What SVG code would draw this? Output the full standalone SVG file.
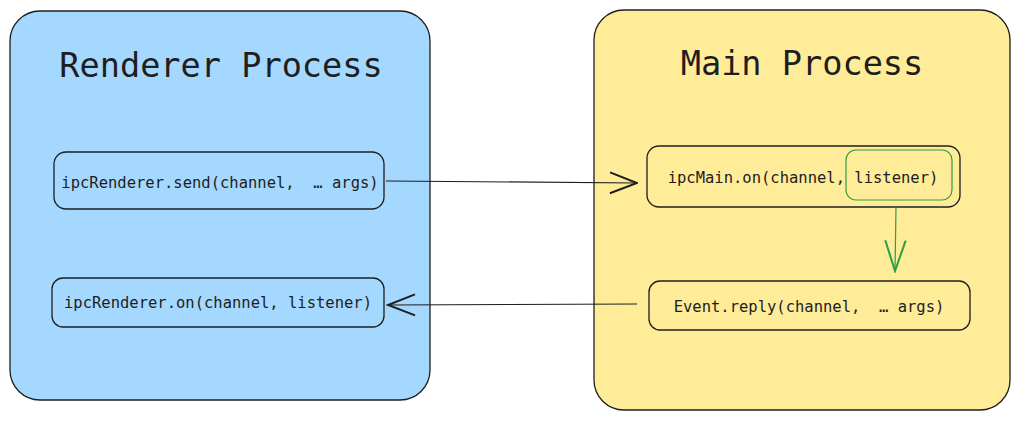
<svg xmlns="http://www.w3.org/2000/svg" width="1021" height="421" viewBox="0 0 1021 421">
<defs>
<style>
.proc{stroke:#1e1e1e;stroke-width:1.3}
.node{fill:none;stroke:#1e1e1e;stroke-width:1.3}
.title{font-family:"DejaVu Sans Mono","Liberation Mono",monospace;font-size:33.6px;fill:#1e1e1e;text-anchor:middle}
.lbl{font-family:"DejaVu Sans Mono","Liberation Mono",monospace;font-size:15.5px;fill:#1e1e1e;text-anchor:middle;white-space:pre}
.conn{fill:none;stroke:#1e1e1e;stroke-width:1.2}
</style>
<marker id="ah" viewBox="0 0 20 20" refX="19" refY="10" markerWidth="30" markerHeight="30" markerUnits="userSpaceOnUse" orient="auto">
<path d="M1,3 L19,10 L1,17" fill="none" stroke="#1e1e1e" stroke-width="1.3"/>
</marker>
<marker id="ahg" viewBox="0 0 20 20" refX="19" refY="10" markerWidth="34" markerHeight="34" markerUnits="userSpaceOnUse" orient="auto">
<path d="M1,4 L19,10 L1,16" fill="none" stroke="#2f9e44" stroke-width="1.2"/>
</marker>
</defs>
<rect width="1021" height="421" fill="#ffffff"/>
<g id="renderer-process">
<rect class="proc" x="10" y="11" width="420" height="389" rx="30" fill="#a5d8ff"/>
<text class="title" x="221" y="77">Renderer Process</text>
</g>
<g id="main-process">
<rect class="proc" x="594" y="10" width="416" height="400" rx="30" fill="#ffec99"/>
<text class="title" x="802" y="75">Main Process</text>
</g>
<g id="renderer-send">
<rect class="node" x="54" y="152" width="330" height="57" rx="12"/>
<text class="lbl" x="220" y="188" xml:space="preserve">ipcRenderer.send(channel,  … args)</text>
</g>
<g id="renderer-on">
<rect class="node" x="52" y="278" width="332" height="49" rx="11"/>
<text class="lbl" x="218" y="308">ipcRenderer.on(channel, listener)</text>
</g>
<g id="main-on">
<rect class="node" x="647" y="146" width="313" height="61" rx="12"/>
<text class="lbl" x="803" y="183">ipcMain.on(channel, listener)</text>
<rect x="846" y="150" width="106" height="50" rx="10" fill="none" stroke="#2f9e44" stroke-width="1.2"/>
</g>
<g id="event-reply">
<rect class="node" x="649" y="281" width="321" height="49" rx="11"/>
<text class="lbl" x="809" y="312" xml:space="preserve">Event.reply(channel,  … args)</text>
</g>
<g id="connectors">
<path class="conn" d="M386,181 L637,183" marker-end="url(#ah)"/>
<path class="conn" d="M637,304 L388,305" marker-end="url(#ah)"/>
<path d="M896,207 L895,271" fill="none" stroke="#2f9e44" stroke-width="1.2" marker-end="url(#ahg)"/>
</g>
</svg>
